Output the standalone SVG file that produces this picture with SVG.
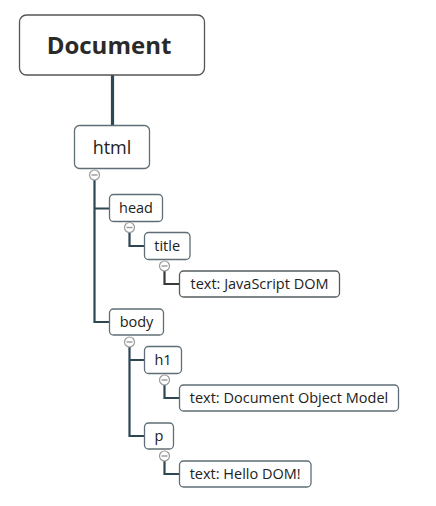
<svg xmlns="http://www.w3.org/2000/svg" width="436" height="506" viewBox="0 0 436 506">
<style>
.n{fill:#fff;stroke:#5f6e77;stroke-width:1.3}
.t{fill:#fff;stroke:#555c60;stroke-width:1.3}
.lb{font-family:"Open Sans","Noto Sans",sans-serif;font-size:14.5px;fill:#222;text-anchor:middle}
.c{fill:none;stroke:#2e4753;stroke-width:2.2}
.tg circle{fill:#fff;stroke:#9a9a9a;stroke-width:1.2}
.tg line{stroke:#9a9a9a;stroke-width:1.4}
</style>
<g id="connectors">
<line class="c" x1="112.5" y1="75" x2="112.5" y2="126" style="stroke-width:3.2"/>
<path class="c" d="M94.5 180V322H109.5M94.5 208.5H109.5"/>
<path class="c" d="M129.5 232V246H144.5"/>
<path class="c" d="M164.5 271V284H179.5" style="stroke:#3a3a3a"/>
<path class="c" d="M129.5 347V436H144.5M129.5 360H144.5"/>
<path class="c" d="M164.5 385V398H179.5"/>
<path class="c" d="M164.5 461V474H179.5"/>
</g>
<g id="document">
<rect x="19.5" y="15" width="185" height="60" rx="7" fill="#fff" stroke="#555" stroke-width="1.3"/>
<text x="109" y="54" font-family="'Open Sans','Noto Sans',sans-serif" font-size="24" font-weight="bold" fill="#2a2a2a" text-anchor="middle">Document</text>
</g>
<g id="html">
<rect class="n" x="74.5" y="125.5" width="75" height="43" rx="5"/>
<text class="lb" x="112" y="153.5" style="font-size:18px">html</text>
</g>
<g id="head">
<rect class="n" x="109.5" y="194.5" width="53" height="27" rx="4"/>
<text class="lb" x="136" y="213">head</text>
</g>
<g id="title">
<rect class="n" x="144.5" y="232.5" width="45.5" height="27" rx="4"/>
<text class="lb" x="167.2" y="251">title</text>
</g>
<g id="text-title">
<rect class="t" x="179.5" y="271" width="160" height="26" rx="4"/>
<text class="lb" x="259.5" y="288.5">text: JavaScript DOM</text>
</g>
<g id="body">
<rect class="n" x="109.5" y="309" width="54" height="26" rx="4"/>
<text class="lb" x="136.5" y="327">body</text>
</g>
<g id="h1">
<rect class="n" x="144.5" y="346.5" width="37" height="27" rx="4"/>
<text class="lb" x="163" y="365">h1</text>
</g>
<g id="text-h1">
<rect class="n" x="179.5" y="385" width="219" height="26" rx="4"/>
<text class="lb" x="289" y="402.5">text: Document Object Model</text>
</g>
<g id="p">
<rect class="n" x="144.5" y="423" width="29" height="26" rx="4"/>
<text class="lb" x="159" y="441">p</text>
</g>
<g id="text-p">
<rect class="n" x="179.5" y="461" width="131.5" height="26" rx="4"/>
<text class="lb" x="245.2" y="478.5">text: Hello DOM!</text>
</g>
<g id="toggles" class="tg">
<circle cx="94.5" cy="175" r="5"/><line x1="91.5" y1="175" x2="97.5" y2="175"/>
<circle cx="129.5" cy="227.5" r="5"/><line x1="126.5" y1="227.5" x2="132.5" y2="227.5"/>
<circle cx="164.5" cy="266" r="5"/><line x1="161.5" y1="266" x2="167.5" y2="266"/>
<circle cx="129.5" cy="342" r="5"/><line x1="126.5" y1="342" x2="132.5" y2="342"/>
<circle cx="164.5" cy="380" r="5"/><line x1="161.5" y1="380" x2="167.5" y2="380"/>
<circle cx="164.5" cy="456" r="5"/><line x1="161.5" y1="456" x2="167.5" y2="456"/>
</g>
</svg>
